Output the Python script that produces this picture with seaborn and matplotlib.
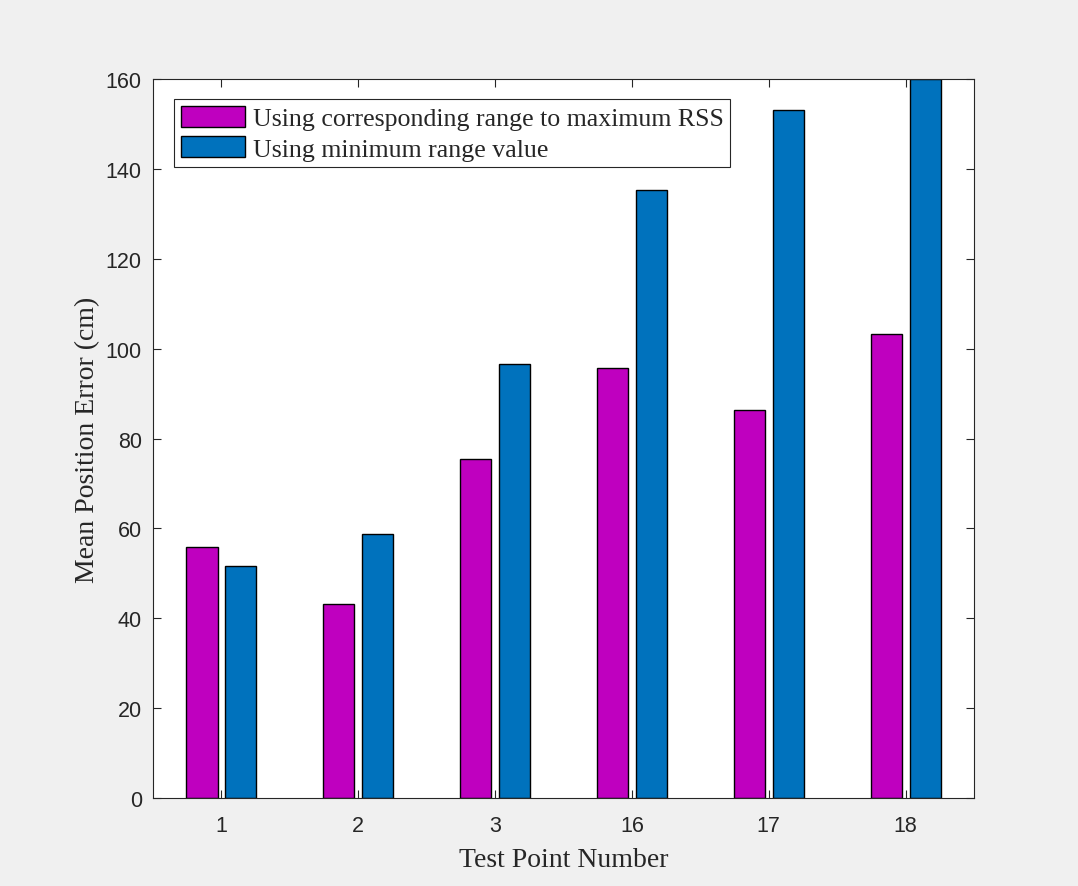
import matplotlib
matplotlib.use("Agg")
import matplotlib.pyplot as plt
import seaborn as sns
import pandas as pd

# Test points and mean position errors (cm) for the two range choices
test_points = ["1", "2", "3", "16", "17", "18"]
err_max_rss = [55.8, 43.1, 75.4, 95.6, 86.3, 103.3]
err_min_range = [51.6, 58.7, 96.5, 135.4, 153.1, 160.0]
series_names = ["Using corresponding range to maximum RSS", "Using minimum range value"]
y_ticks = [0, 20, 40, 60, 80, 100, 120, 140, 160]

df = pd.DataFrame({
    "point": test_points * 2,
    "error": err_max_rss + err_min_range,
    "method": [series_names[0]] * len(test_points) + [series_names[1]] * len(test_points),
})

sns.set_style("white")
plt.rcParams["font.family"] = ["Liberation Sans", "DejaVu Sans"]

fig = plt.figure(figsize=(10.78, 8.87), dpi=100, facecolor="#f0f0f0")
ax = fig.add_axes([0.1419, 0.0992, 0.7617, 0.8106])
ax.set_facecolor("white")

sns.barplot(data=df, x="point", y="error", hue="method", order=test_points,
            hue_order=series_names, palette=["#bf00bf", "#0072bd"],
            width=0.568, gap=0.2, edgecolor="black", linewidth=1.0,
            errorbar=None, ax=ax, saturation=1)

ax.set_xlim(-0.5, 5.5)
ax.set_ylim(0, 160)
ax.set_yticks(y_ticks)
ax.set_yticklabels([str(v) for v in y_ticks])

for side in ["left", "right", "top", "bottom"]:
    ax.spines[side].set_visible(True)
    ax.spines[side].set_color("#262626")
    ax.spines[side].set_linewidth(0.8)

ax.tick_params(axis="both", which="both", direction="in", length=6, width=0.8,
               color="#262626", labelcolor="#262626", labelsize=15.5,
               top=True, right=True, bottom=True, left=True)
ax.tick_params(axis="x", pad=12)
ax.tick_params(axis="y", pad=8)

serif = ["Liberation Serif", "DejaVu Serif"]
ax.set_xlabel("Test Point Number", family=serif, fontsize=20, color="#262626", labelpad=8)
ax.set_ylabel("Mean Position Error (cm)", family=serif, fontsize=20, color="#262626", labelpad=4)

leg = ax.legend(loc="upper left", bbox_to_anchor=(0.026, 0.972), frameon=True,
                fancybox=False, edgecolor="#262626", prop={"family": serif, "size": 18.6},
                handlelength=2.5, handleheight=0.9, handletextpad=0.3,
                borderpad=0.25, labelspacing=0.22, borderaxespad=0)
leg.get_frame().set_linewidth(0.8)
leg.get_frame().set_facecolor("white")
leg.get_frame().set_alpha(1)

fig.savefig("out.png", dpi=100, facecolor=fig.get_facecolor())
